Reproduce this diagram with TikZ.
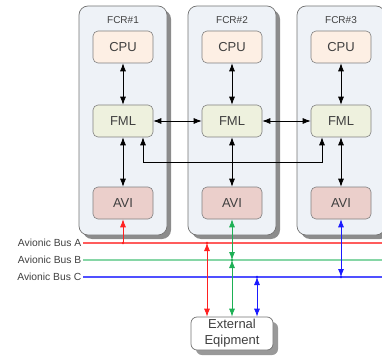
\documentclass[tikz,border=0pt]{standalone}
\usepackage{fontspec}
\setmainfont{Liberation Sans}
\usetikzlibrary{positioning,arrows.meta,shadows}

\definecolor{FcrFill}{HTML}{EEF2F7}
\definecolor{CpuFill}{HTML}{FDEFE4}
\definecolor{FmlFill}{HTML}{EEF1DE}
\definecolor{AviFill}{HTML}{EBCFCB}
\definecolor{BusRed}{HTML}{FF5C5C}
\definecolor{BusGreen}{HTML}{86D6A6}
\definecolor{BusBlue}{HTML}{5050FF}
\definecolor{LinkRed}{HTML}{FF2020}
\definecolor{LinkGreen}{HTML}{1DB055}
\definecolor{LinkBlue}{HTML}{1A1AFF}

\begin{document}
\begin{tikzpicture}[
        %Environment config
        x=1pt, y=-1pt,
        font=\fontsize{13}{15}\selectfont,
        text=black!75,
        %Environment styles
        FcrCfg/.style={
            draw=black!55, fill=FcrFill,
            rounded corners=9pt, line width=0.7pt,
            minimum width=88pt, minimum height=229pt,
            drop shadow={shadow xshift=4pt, shadow yshift=-4pt, fill=black!45, opacity=1}
        },
        TitleCfg/.style={font=\fontsize{10}{11}\selectfont, inner sep=0pt},
        UnitCfg/.style={
            draw=black!50, rounded corners=5pt, line width=0.6pt,
            minimum width=60pt, minimum height=32pt
        },
        ExtCfg/.style={
            draw=black!55, fill=white, rounded corners=6pt, line width=0.7pt,
            minimum width=82pt, minimum height=33pt, inner sep=1pt, align=center,
            font=\fontsize{13}{16}\selectfont,
            drop shadow={shadow xshift=5pt, shadow yshift=-5pt, fill=black!40, opacity=1}
        },
        BusLabel/.style={anchor=east, font=\fontsize{10.3}{11}\selectfont, inner sep=0pt},
        BusLine/.style={line width=1.4pt},
        Link/.style={{Latex[length=8pt,width=6pt]}-{Latex[length=8pt,width=6pt]}, line width=0.8pt},
        UpLink/.style={-{Latex[length=8pt,width=6pt]}, line width=0.8pt}
    ]
    \useasboundingbox (0,0) rectangle (382,358);

    % racks
    \path
        (123,120.5) node[FcrCfg](FCR1){}
        (232,120.5) node[FcrCfg](FCR2){}
        (341,120.5) node[FcrCfg](FCR3){};

    \path
        (123,20) node[TitleCfg](T1){FCR\#1}
        (232,20) node[TitleCfg](T2){FCR\#2}
        (341,20) node[TitleCfg](T3){FCR\#3}
        (123,47) node[UnitCfg,fill=CpuFill](CPU1){CPU}
            ++ (0,74) node[UnitCfg,fill=FmlFill](FML1){FML}
            ++ (0,82) node[UnitCfg,fill=AviFill](AVI1){AVI}
        (232,47) node[UnitCfg,fill=CpuFill](CPU2){CPU}
            ++ (0,74) node[UnitCfg,fill=FmlFill](FML2){FML}
            ++ (0,82) node[UnitCfg,fill=AviFill](AVI2){AVI}
        (341,47) node[UnitCfg,fill=CpuFill](CPU3){CPU}
            ++ (0,74) node[UnitCfg,fill=FmlFill](FML3){FML}
            ++ (0,82) node[UnitCfg,fill=AviFill](AVI3){AVI};

    % links inside the racks
    \draw[Link]
        (CPU1) edge (FML1) (FML1) edge (AVI1)
        (CPU2) edge (FML2) (FML2) edge (AVI2)
        (CPU3) edge (FML3) (FML3) edge (AVI3)
        (FML1) edge (FML2) (FML2) edge (FML3)
        ([xshift=20pt]FML1.south) -- ++(0,25) -| ([xshift=-19pt]FML3.south);

    % avionic buses
    \coordinate (BusA) at (83,243);
    \coordinate (BusB) at (83,260);
    \coordinate (BusC) at (83,277);
    \draw[BusLine,BusRed] (BusA) -- ++(299,0);
    \draw[BusLine,BusGreen] (BusB) -- ++(299,0);
    \draw[BusLine,BusBlue] (BusC) -- ++(299,0);
    \node[BusLabel](LA) at ([xshift=-1.5pt]BusA){Avionic Bus A};
    \node[BusLabel](LB) at ([xshift=-1.5pt]BusB){Avionic Bus B};
    \node[BusLabel](LC) at ([xshift=-1.5pt]BusC){Avionic Bus C};

    \node[ExtCfg](EXT) at (232,333.5){External\\Eqipment};

    % bus taps
    \coordinate (JA1) at (AVI1.south |- BusA);
    \coordinate (JA2) at (207,243);
    \coordinate (JB2) at (AVI2.south |- BusB);
    \coordinate (JC2) at (257,277);
    \coordinate (JC3) at (AVI3.south |- BusC);

    \draw[UpLink,LinkRed] (JA1) -- (AVI1.south);
    \draw[Link,LinkGreen] (AVI2.south) -- (JB2);
    \draw[Link,LinkBlue] (AVI3.south) -- (JC3);
    \draw[Link,LinkRed] (JA2) -- (JA2 |- EXT.north);
    \draw[Link,LinkGreen] (JB2) -- (EXT.north);
    \draw[Link,LinkBlue] (JC2) -- (JC2 |- EXT.north);

    \fill[LinkRed] (JA1) circle (1.3pt) (JA2) circle (1.3pt);
    \fill[LinkGreen] (JB2) circle (1.3pt);
    \fill[LinkBlue] (JC2) circle (1.3pt) (JC3) circle (1.3pt);
\end{tikzpicture}
\end{document}
